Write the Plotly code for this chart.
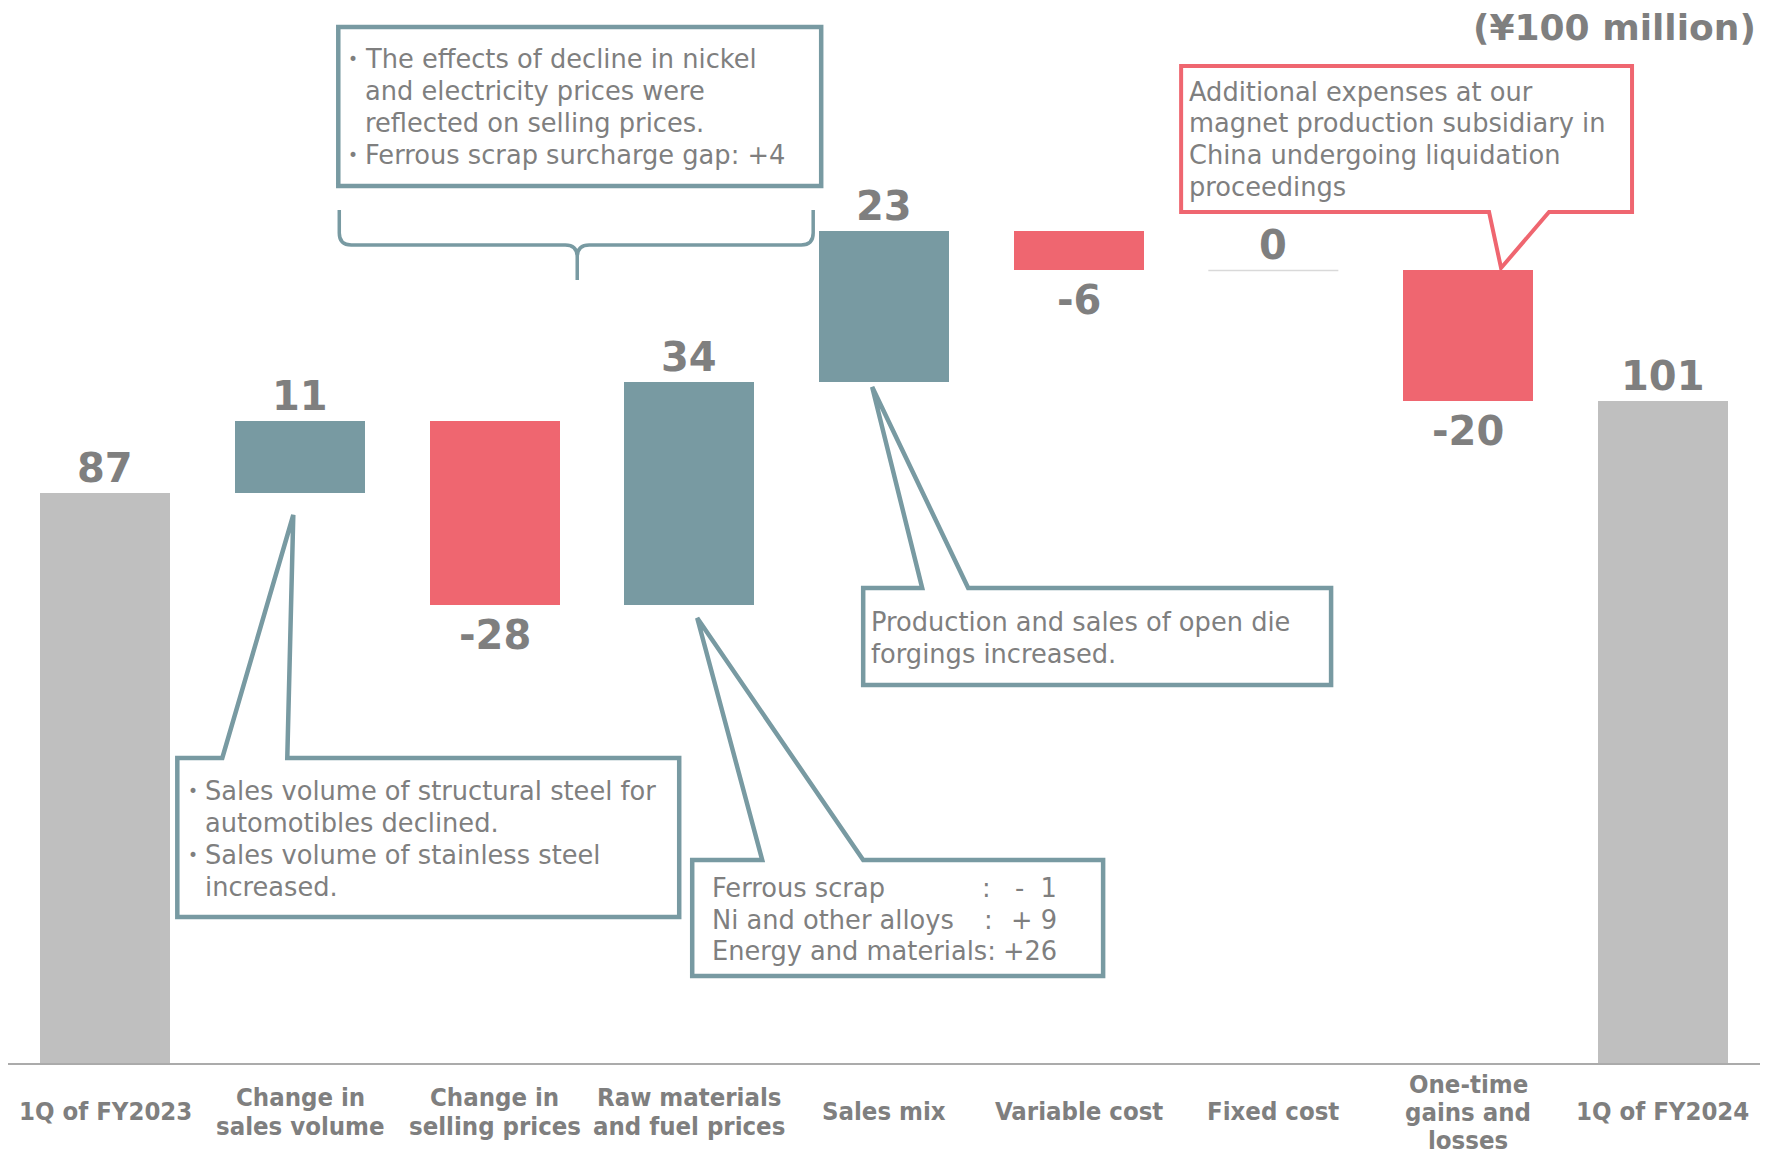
import plotly.graph_objects as go

# ---- data (¥100 million) ----
start_label = "1Q of FY2023"
end_label = "1Q of FY2024"
start_value = 87
end_value = 101
step_labels = [
    "Change in sales volume",
    "Change in selling prices",
    "Raw materials and fuel prices",
    "Sales mix",
    "Variable cost",
    "Fixed cost",
    "One-time gains and losses",
]
step_values = [11, -28, 34, 23, -6, 0, -20]

# how each category name is broken over lines under the axis
label_lines = [
    ["1Q of FY2023"],
    ["Change in", "sales volume"],
    ["Change in", "selling prices"],
    ["Raw materials", "and fuel prices"],
    ["Sales mix"],
    ["Variable cost"],
    ["Fixed cost"],
    ["One-time", "gains and", "losses"],
    ["1Q of FY2024"],
]

unit_text = "(¥100 million)"

# ---- styling ----
GRAY_BAR = "#BFBFBF"
TEAL = "#789AA2"
RED = "#EF6670"
TEXT_GRAY = "#7F7F7F"
BOX_FONT = "DejaVu Sans"
NUM_FONT = "DejaVu Sans"
CAT_FONT = "DejaVu Sans Condensed, DejaVu Sans, sans-serif"

W_FIG, H_FIG = 1774, 1155
PLOT_L, PLOT_R = 7.65, 1760.0
PLOT_T, PLOT_B = 0.0, 1063.0
PX_PER_UNIT = 6.55

# ---- waterfall geometry built from the data ----
categories = [start_label] + step_labels + [end_label]
bases, heights, colors = [0], [start_value], [GRAY_BAR]
level = start_value
for v in step_values:
    bases.append(level)
    heights.append(v)
    colors.append(TEAL if v > 0 else (RED if v < 0 else "rgba(0,0,0,0)"))
    level += v
bases.append(0)
heights.append(end_value)
colors.append(GRAY_BAR)

BAR_W = 0.668

fig = go.Figure(
    go.Bar(
        x=categories,
        y=heights,
        base=bases,
        width=BAR_W,
        marker=dict(color=colors, line=dict(width=0)),
        hoverinfo="skip",
    )
)


# pixel -> paper helpers for callout furniture
def fx(x):
    return (x - PLOT_L) / (PLOT_R - PLOT_L)


def fy(y):
    return (PLOT_B - y) / (PLOT_B - PLOT_T)


def poly(points):
    return "M " + " L ".join(f"{fx(x):.5f},{fy(y):.5f}" for x, y in points) + " Z"


shapes = []
annotations = []

# value labels above / below each bar end
all_values = [start_value] + step_values + [end_value]
for i, (cat, v) in enumerate(zip(categories, all_values)):
    b, h = bases[i], heights[i]
    above = h >= 0
    annotations.append(dict(
        x=cat, y=b + h, xref="x", yref="y", text=str(v), showarrow=False,
        xanchor="center", yanchor="bottom" if above else "top",
        yshift=0 if above else -5,
        font=dict(family=NUM_FONT, size=40, color=TEXT_GRAY, weight="bold"),
    ))
    if h == 0:
        shapes.append(dict(
            type="line", xref="x", yref="y",
            x0=i - BAR_W / 2, x1=i + BAR_W / 2, y0=b, y1=b,
            line=dict(color="#D9D9D9", width=1.5),
        ))

# category labels under the axis
line_centres = {1: [1111], 2: [1097, 1126], 3: [1084, 1112, 1140]}
for cat, lines in zip(categories, label_lines):
    for txt, yy in zip(lines, line_centres[len(lines)]):
        annotations.append(dict(
            x=cat, y=fy(yy), xref="x", yref="paper", text=txt, showarrow=False,
            xanchor="center", yanchor="middle",
            font=dict(family=CAT_FONT, size=25.5, color=TEXT_GRAY, weight="bold"),
        ))

# unit note
annotations.append(dict(
    x=fx(1758), y=fy(27), xref="paper", yref="paper", text=unit_text,
    showarrow=False, xanchor="right", yanchor="middle",
    font=dict(family=NUM_FONT, size=36, color=TEXT_GRAY, weight="bold"),
))

BOX_TEXT = dict(family=BOX_FONT, size=25.7, color=TEXT_GRAY)


def text_block(x, ys, lines, bullets=()):
    for k, (txt, yy) in enumerate(zip(lines, ys)):
        annotations.append(dict(
            x=fx(x - 3), y=fy(yy), xref="paper", yref="paper", text=txt,
            showarrow=False, xanchor="left", yanchor="middle", font=BOX_TEXT,
        ))
        if k in bullets:
            annotations.append(dict(
                x=fx(x - 13), y=fy(yy), xref="paper", yref="paper", text="•",
                showarrow=False, xanchor="center", yanchor="middle",
                font=dict(family=BOX_FONT, size=17, color=TEXT_GRAY),
            ))


BOX_LINE = 4.5

# selling-price note with brace
shapes.append(dict(
    type="rect", xref="paper", yref="paper",
    x0=fx(338), x1=fx(821), y0=fy(27), y1=fy(186),
    line=dict(color=TEAL, width=BOX_LINE), fillcolor="white",
))
text_block(366, [59, 91, 123, 155], [
    "The effects of decline in nickel",
    "and electricity prices were",
    "reflected on selling prices.",
    "Ferrous scrap surcharge gap: +4",
], bullets=(0, 3))

bx0, bx1, bxc, by0, byh, byt, r = 339, 813, 577, 210, 245, 280, 12
brace = (
    f"M {fx(bx0)},{fy(by0)} L {fx(bx0)},{fy(byh - r)} "
    f"Q {fx(bx0)},{fy(byh)} {fx(bx0 + r)},{fy(byh)} "
    f"L {fx(bxc - r)},{fy(byh)} Q {fx(bxc)},{fy(byh)} {fx(bxc)},{fy(byh + r)} "
    f"L {fx(bxc)},{fy(byt)} M {fx(bxc)},{fy(byh + r)} "
    f"Q {fx(bxc)},{fy(byh)} {fx(bxc + r)},{fy(byh)} "
    f"L {fx(bx1 - r)},{fy(byh)} Q {fx(bx1)},{fy(byh)} {fx(bx1)},{fy(byh - r)} "
    f"L {fx(bx1)},{fy(by0)}"
)
shapes.append(dict(type="path", xref="paper", yref="paper", path=brace,
                   line=dict(color=TEAL, width=3.5)))

# sales volume callout
shapes.append(dict(
    type="path", xref="paper", yref="paper", fillcolor="white",
    line=dict(color=TEAL, width=BOX_LINE),
    path=poly([(177, 758), (222, 758), (293, 515), (287, 758),
               (679, 758), (679, 917), (177, 917)]),
))
text_block(206, [791, 823, 855, 887], [
    "Sales volume of structural steel for",
    "automotibles declined.",
    "Sales volume of stainless steel",
    "increased.",
], bullets=(0, 2))

# raw materials callout
shapes.append(dict(
    type="path", xref="paper", yref="paper", fillcolor="white",
    line=dict(color=TEAL, width=BOX_LINE),
    path=poly([(692, 860), (762, 860), (697, 618), (863, 860),
               (1103, 860), (1103, 976), (692, 976)]),
))
raw_items = ["Ferrous scrap", "Ni and other alloys", "Energy and materials:"]
raw_values = ["-  1", "+ 9", "+26"]
raw_ys = [888, 920, 951]
text_block(713, raw_ys, raw_items)
for k, (val, yy) in enumerate(zip(raw_values, raw_ys)):
    if k < 2:
        annotations.append(dict(
            x=fx(986 + 2 * k), y=fy(yy), xref="paper", yref="paper", text=":",
            showarrow=False, xanchor="center", yanchor="middle", font=BOX_TEXT,
        ))
    annotations.append(dict(
        x=fx(1059), y=fy(yy), xref="paper", yref="paper", text=val,
        showarrow=False, xanchor="right", yanchor="middle", font=BOX_TEXT,
    ))

# sales mix callout
shapes.append(dict(
    type="path", xref="paper", yref="paper", fillcolor="white",
    line=dict(color=TEAL, width=BOX_LINE),
    path=poly([(863, 588), (922, 588), (872, 387), (968, 588),
               (1331, 588), (1331, 685), (863, 685)]),
))
text_block(872, [622, 654], [
    "Production and sales of open die",
    "forgings increased.",
])

# one-time losses callout
shapes.append(dict(
    type="path", xref="paper", yref="paper", fillcolor="white",
    line=dict(color=RED, width=4),
    path=poly([(1181, 66), (1632, 66), (1632, 212), (1549, 212),
               (1501, 268), (1489, 212), (1181, 212)]),
))
text_block(1190, [92, 123, 155, 187], [
    "Additional expenses at our",
    "magnet production subsidiary in",
    "China undergoing liquidation",
    "proceedings",
])

fig.update_layout(
    width=W_FIG,
    height=H_FIG,
    margin=dict(l=PLOT_L, r=W_FIG - PLOT_R, t=PLOT_T, b=H_FIG - PLOT_B, pad=0),
    paper_bgcolor="white",
    plot_bgcolor="white",
    showlegend=False,
    shapes=shapes,
    annotations=annotations,
    bargap=0,
)
fig.update_xaxes(
    type="category", categoryorder="array", categoryarray=categories,
    range=[-0.5, len(categories) - 0.5],
    showticklabels=False, ticks="", showgrid=False, zeroline=False,
    showline=True, linecolor="#ABABAB", linewidth=2,
)
fig.update_yaxes(
    range=[0, (PLOT_B - PLOT_T) / PX_PER_UNIT],
    visible=False, showgrid=False, zeroline=False,
)

fig.write_html("out.html")
